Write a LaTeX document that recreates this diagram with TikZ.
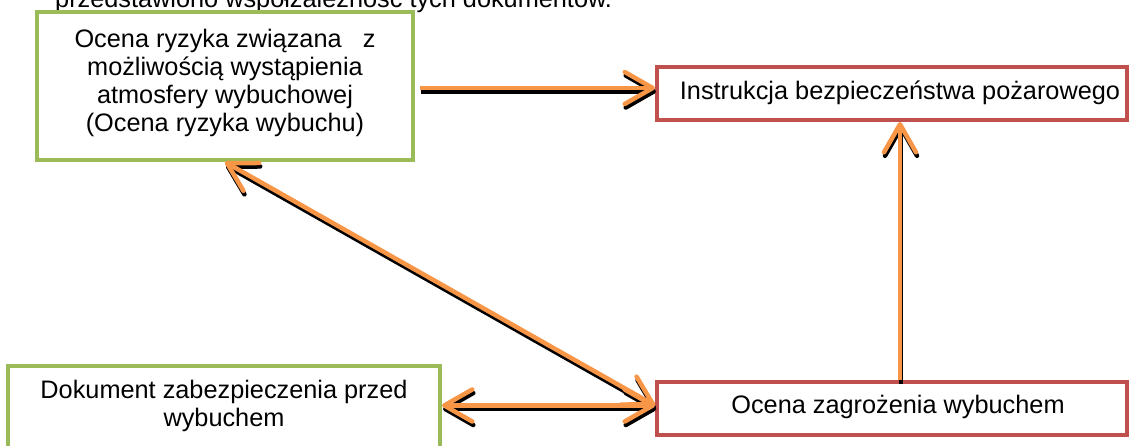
\documentclass[tikz,border=0pt]{standalone}
\usepackage{fontspec}
\setmainfont{Liberation Sans}
\usetikzlibrary{arrows.meta}
\definecolor{boxgreen}{RGB}{155,187,89}
\definecolor{boxred}{RGB}{192,80,77}
\definecolor{linkorange}{RGB}{247,150,70}
\begin{document}
\begin{tikzpicture}[x=1pt,y=-1pt,
  txt/.style={font=\fontsize{25.3}{28}\selectfont, align=center, inner sep=0pt},
  greenbox/.style={draw=boxgreen, line width=4pt, fill=white, inner sep=0pt},
  redbox/.style={draw=boxred, line width=4pt, fill=white, inner sep=0pt},
  barb/.tip={Straight Barb[length=28pt,width=32pt,round]},
  link/.style={draw=linkorange, line width=4.5pt},
  linkshade/.style={draw=black, line width=4.5pt, transform canvas={shift={(1pt,-3.5pt)}}}
]
\useasboundingbox (0,0) rectangle (1131,445);
\fill[white] (0,0) rectangle (1131,445);

% running text line, cut by the top edge
\node[txt, anchor=base west] (lead) at (55,7) {przedstawiono współzależność tych dokumentów.};

% boxes
\node[greenbox, minimum width=376pt, minimum height=148pt] (risk) at (225,86) {};
\node[redbox, minimum width=470pt, minimum height=53pt] (fire) at (892,93.5) {};
\node[redbox, minimum width=470pt, minimum height=53pt] (threat) at (892,408.5) {};
\node[greenbox, minimum width=432pt, minimum height=100pt] (protect) at (224,416) {};

% box texts
\node[txt] (risktext) at (225,83) {Ocena ryzyka związana\ \ \ z\\możliwością wystąpienia\\atmosfery wybuchowej\\(Ocena ryzyka wybuchu)};
\node[txt] (firetext) at (900,93) {Instrukcja bezpieczeństwa pożarowego};
\node[txt] (threattext) at (898,407) {Ocena zagrożenia wybuchem};
\node[txt] (protecttext) at (224,406) {Dokument zabezpieczenia przed\\wybuchem};

% connector end points
\coordinate (r1) at ([xshift=5pt,yshift=-2pt]risk.east);
\coordinate (tin) at ([yshift=3pt]threat.west);
\coordinate (vup) at ([xshift=8pt]threat.north);
\coordinate (vtop) at ([xshift=8pt]fire.south);

% shadows under the connectors
\draw[linkshade, -barb] (r1) -- (r1 -| fire.west);
\draw[linkshade, barb-barb] (risk.south) -- (tin);
\draw[linkshade, barb-barb] (tin -| protect.east) -- (tin);
\draw[linkshade, -barb] (vup) -- (vtop);

% connectors
\draw[link, -barb] (r1) -- (r1 -| fire.west);
\draw[link, barb-barb] (risk.south) -- (tin);
\draw[link, barb-barb] (tin -| protect.east) -- (tin);
\draw[link, -barb] (vup) -- (vtop);
\end{tikzpicture}
\end{document}
